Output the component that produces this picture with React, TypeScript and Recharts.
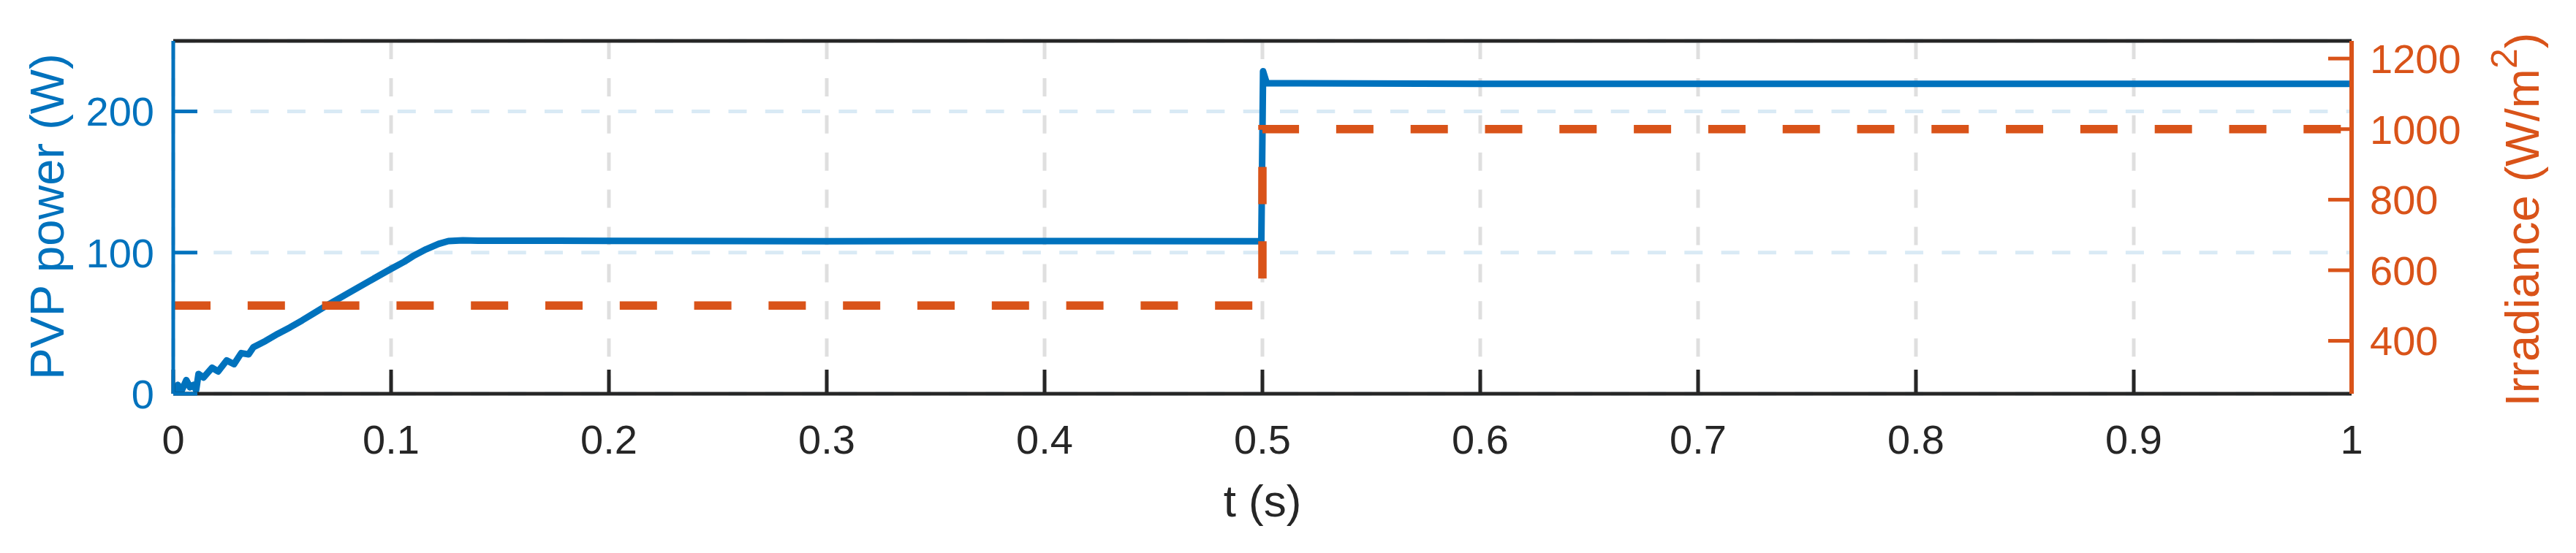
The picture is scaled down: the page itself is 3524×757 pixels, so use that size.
import React from 'react';
import { LineChart, Line, XAxis, YAxis, CartesianGrid } from 'recharts';

// ---- data ----
const timeTicks = [0, 0.1, 0.2, 0.3, 0.4, 0.5, 0.6, 0.7, 0.8, 0.9, 1];
const powerTicks = [0, 100, 200];
const irradianceTicks = [400, 600, 800, 1000, 1200];

const powerTime = [
  0, 0.001, 0.0021, 0.0038, 0.006, 0.0077, 0.0094, 0.0105, 0.0116, 0.0139,
  0.0178, 0.0206, 0.0245, 0.0279, 0.0312, 0.0346, 0.0368, 0.0401, 0.0424, 0.048,
  0.0536, 0.0592, 0.0648, 0.0692, 0.08, 0.09, 0.0994, 0.106, 0.1106, 0.116,
  0.1218, 0.1263, 0.1329, 0.14, 0.2, 0.3, 0.4, 0.4995, 0.5003, 0.502,
  0.6, 0.7, 0.8, 0.9, 1,
];
const powerValues = [
  0, 2, 6.3, 2, 9.7, 4.6, 6.3, 2.5, 14, 11.5,
  18.4, 15.8, 23.6, 21, 28.8, 27.9, 33, 35.6, 37.4, 42.5,
  47, 52, 57.3, 61.4, 71, 79.8, 88, 93.5, 98, 102.3,
  106.2, 108.2, 108.7, 108.5, 108.3, 108.1, 108.2, 108.1, 228.5, 220,
  219.6, 219.6, 219.6, 219.6, 219.6,
];

const irradianceTime = [0, 0.5, 0.5, 1];
const irradianceValues = [500, 500, 1000, 1000];

const powerData = powerTime.map((t, i) => ({ t, p: powerValues[i] }));
const irradianceData = irradianceTime.map((t, i) => ({ t, irr: irradianceValues[i] }));

// ---- style ----
const FONT = '"Liberation Sans", Arial, Helvetica, sans-serif';
const BLUE = '#0072BD';
const ORANGE = '#D95319';
const DARK = '#262626';

const LeftLabel = () => (
  <text
    x={79}
    y={288.5}
    transform="rotate(-90 79 288.5)"
    textAnchor="middle"
    fontSize={65}
    fontFamily={FONT}
    fill={BLUE}
  >
    PVP power (W)
  </text>
);

const RightLabel = () => (
  <text
    x={3465}
    y={292.5}
    transform="rotate(-90 3465 292.5)"
    textAnchor="middle"
    fontSize={65}
    fontFamily={FONT}
    fill={ORANGE}
  >
    <tspan>Irradiance (W/m</tspan>
    <tspan dy={-30} fontSize={50}>2</tspan>
    <tspan dy={30}>)</tspan>
  </text>
);

const BottomLabel = () => (
  <text x={1719} y={698.7} textAnchor="middle" fontSize={62} fontFamily={FONT} fill={DARK}>
    t (s)
  </text>
);

export default function App() {
  return (
    <div style={{ width: 3508, height: 741 }}>
      <LineChart width={3508} height={741} margin={{ top: 47, right: 99, bottom: 110, left: 29 }}>
        <CartesianGrid
          xAxisId="bottom"
          yAxisId="left"
          horizontal={false}
          vertical
          stroke="#DFDFDF"
          strokeWidth={5}
          strokeDasharray="25 25.9"
        />
        <CartesianGrid
          xAxisId="bottom"
          yAxisId="left"
          horizontal
          vertical={false}
          stroke="#D9EAF5"
          strokeWidth={5}
          strokeDasharray="25 25.3"
          strokeDashoffset={-5}
        />
        <XAxis
          xAxisId="top"
          orientation="top"
          type="number"
          dataKey="t"
          domain={[0, 1]}
          allowDataOverflow
          ticks={timeTicks}
          interval={0}
          height={1}
          tick={false}
          tickSize={-31}
          axisLine={{ stroke: DARK, strokeWidth: 5 }}
          tickLine={{ stroke: DARK, strokeWidth: 5 }}
        />
        <XAxis
          xAxisId="bottom"
          orientation="bottom"
          type="number"
          dataKey="t"
          domain={[0, 1]}
          allowDataOverflow
          ticks={timeTicks}
          interval={0}
          height={100}
          tickSize={-33}
          tickMargin={75}
          tick={{ fill: DARK, fontSize: 56, fontFamily: FONT }}
          axisLine={{ stroke: DARK, strokeWidth: 5 }}
          tickLine={{ stroke: DARK, strokeWidth: 5 }}
          label={{ content: () => <BottomLabel /> }}
        />
        <YAxis
          yAxisId="left"
          orientation="left"
          type="number"
          domain={[0, 250]}
          allowDataOverflow
          ticks={powerTicks}
          interval={0}
          width={200}
          tickSize={-33}
          tickMargin={59}
          tick={{ fill: BLUE, fontSize: 56, fontFamily: FONT }}
          axisLine={{ stroke: BLUE, strokeWidth: 5 }}
          tickLine={{ stroke: BLUE, strokeWidth: 5 }}
          label={{ content: () => <LeftLabel /> }}
        />
        <YAxis
          yAxisId="right"
          orientation="right"
          type="number"
          domain={[250, 1250]}
          allowDataOverflow
          ticks={irradianceTicks}
          interval={0}
          width={200}
          tickSize={-32}
          tickMargin={57}
          tick={{ fill: ORANGE, fontSize: 56, fontFamily: FONT }}
          axisLine={{ stroke: ORANGE, strokeWidth: 6 }}
          tickLine={{ stroke: ORANGE, strokeWidth: 5 }}
          label={{ content: () => <RightLabel /> }}
        />
        <Line
          xAxisId="bottom"
          yAxisId="left"
          data={powerData}
          dataKey="p"
          type="linear"
          stroke={BLUE}
          strokeWidth={9}
          strokeLinejoin="round"
          dot={false}
          activeDot={false}
          isAnimationActive={false}
        />
        <Line
          xAxisId="bottom"
          yAxisId="right"
          data={irradianceData}
          dataKey="irr"
          type="linear"
          stroke={ORANGE}
          strokeWidth={11.5}
          strokeDasharray="51 50.8"
          dot={false}
          activeDot={false}
          isAnimationActive={false}
        />
      </LineChart>
    </div>
  );
}
